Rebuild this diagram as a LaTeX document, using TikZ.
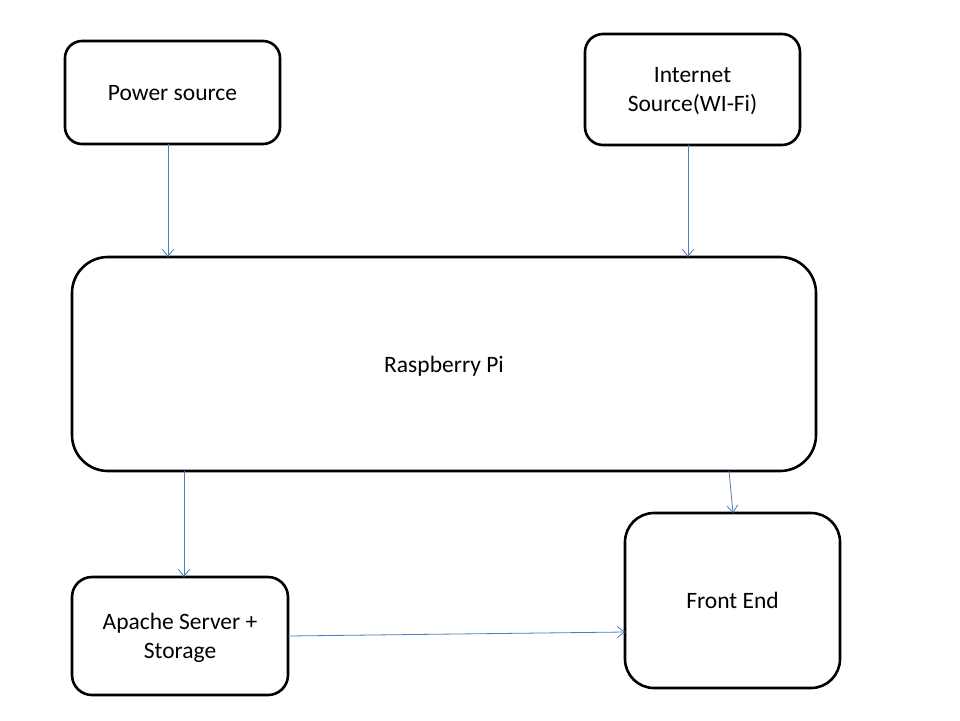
\documentclass[tikz,border=0pt]{standalone}
\usepackage{fontspec}
\setmainfont{Carlito}
\usetikzlibrary{arrows.meta}
\definecolor{arrowblue}{HTML}{4A7EBB}
\tikzset{
  box/.style={draw=black, line width=2.6pt, fill=white, align=center, inner sep=0pt, outer sep=0pt,
    text depth=0pt, font=\fontsize{23.5}{29.5}\selectfont},
  link/.style={draw=arrowblue, line width=0.8pt, -{Straight Barb[length=7pt,width=11pt,line width=0.8pt]}}
}
\begin{document}
\begin{tikzpicture}[x=1pt,y=-1pt]
\useasboundingbox[fill=white] (0,0) rectangle (960,720);
\node[box, minimum width=215pt, minimum height=103pt, rounded corners=17pt] (pw) at (172.5,92.5) {Power source};
\node[box, minimum width=215pt, minimum height=111pt, rounded corners=18pt] (in) at (692.5,89.5) {Internet\\Source(WI-Fi)};
\node[box, minimum width=744pt, minimum height=214pt, rounded corners=36pt] (pi) at (444,364) {Raspberry Pi};
\node[box, minimum width=216pt, minimum height=118pt, rounded corners=20pt] (ap) at (180,636) {Apache Server +\\Storage};
\node[box, minimum width=215pt, minimum height=175pt, rounded corners=29pt] (fe) at (732.5,600.5) {Front End};
\draw[link] ([xshift=-4.5pt]pw.south) -- ([xshift=-4.5pt]pw.south |- pi.north);
\draw[link] ([xshift=-4.5pt]in.south) -- ([xshift=-4.5pt]in.south |- pi.north);
\draw[link] ([xshift=4pt]ap.north |- pi.south) -- ([xshift=4pt]ap.north);
\draw[link] ([xshift=-3.5pt]fe.north |- pi.south) -- ([xshift=0.5pt]fe.north);
\draw[link] (ap.east) -- ([yshift=-31.5pt]fe.west);
\end{tikzpicture}
\end{document}
